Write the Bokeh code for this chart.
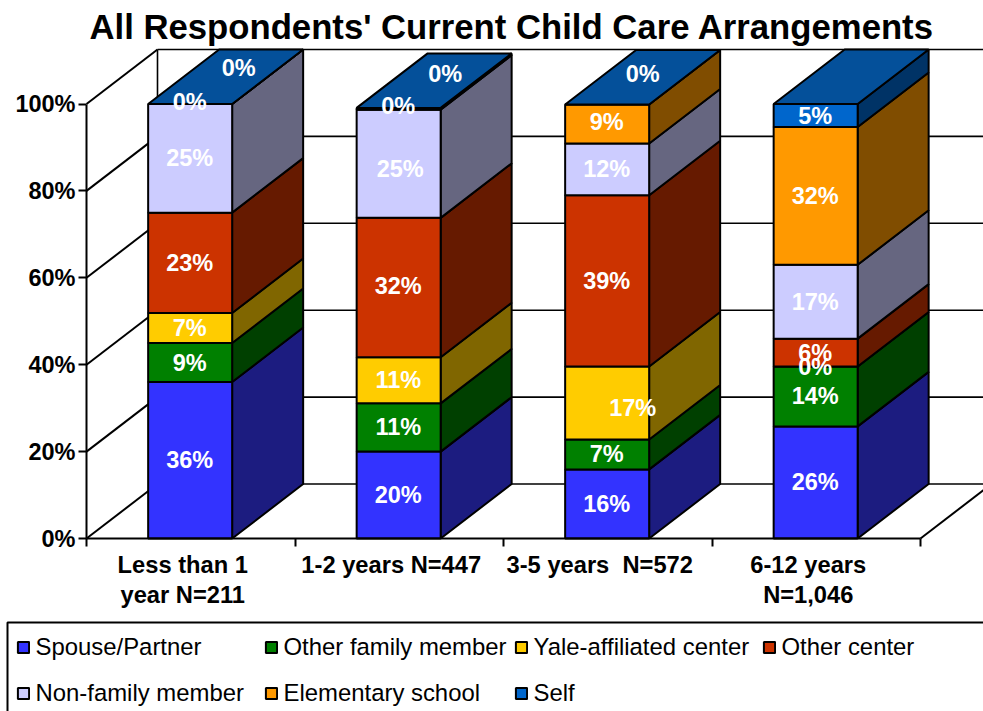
from bokeh.plotting import figure
from bokeh.embed import file_html
from bokeh.resources import INLINE
from bokeh.models import ColumnDataSource, FixedTicker, Legend, LegendItem, BoxAnnotation
from bokeh.core.properties import value

# ---- data (percent of respondents, bottom of stack to top) ----
CATEGORIES = ["Less than 1\nyear N=211", "1-2 years N=447", "3-5 years\u00a0 N=572", "6-12 years\nN=1,046"]
SERIES = ["Spouse/Partner", "Other family member", "Yale-affiliated center", "Other center",
          "Non-family member", "Elementary school", "Self"]
SPOUSE = [36.0, 20.0, 15.9, 25.8]
OTHER_FAMILY = [9.0, 11.1, 6.9, 13.8]
YALE = [6.9, 10.6, 16.8, 0.0]
OTHER_CENTER = [23.1, 32.1, 39.4, 6.4]
NON_FAMILY = [25.0, 24.9, 11.9, 17.0]
ELEMENTARY = [0.0, 0.4, 9.0, 31.7]
SELF = [0.0, 0.0, 0.0, 5.3]
VALUES = [SPOUSE, OTHER_FAMILY, YALE, OTHER_CENTER, NON_FAMILY, ELEMENTARY, SELF]
Y_TICKS = [0, 20, 40, 60, 80, 100]

# ---- styling ----
FRONT = ["#3333FF", "#008000", "#FFCC00", "#CC3300", "#CCCCFF", "#FF9900", "#0066CC"]
SIDE = ["#1C1C80", "#004000", "#806600", "#661A00", "#666680", "#804D00", "#003366"]
TOP_COLOR = "#04509A"
FONT = "Liberation Sans"
BIG = "23.5px"

W, H = 983, 711
PX_X = 208.5          # pixels per category
PX_Y = 4.345          # pixels per percent
DX = 71 / PX_X        # 3-D depth in x units
DY = 54.5 / PX_Y      # 3-D depth in y units
BAR = 84 / PX_X
BAR_NUDGE = 0.6 / PX_X
ORIGIN_X, ORIGIN_Y, FRAME_T = 86, 538, 47   # canvas pixels of the 0/0 corner and frame top
X_START, X_END = -ORIGIN_X / PX_X, (W - ORIGIN_X) / PX_X
Y_START, Y_END = -(H - ORIGIN_Y) / PX_Y, (ORIGIN_Y - FRAME_T) / PX_Y

# hand-placed data labels: (category, series) -> pixel offset from the face centre
LABEL_SHIFT = {
    (0, 5): (0, -2), (0, 6): (49, -36),
    (1, 4): (2, 5), (1, 5): (0, -3), (1, 6): (47, -34), (1, 3): (0, -2),
    (2, 2): (26, 5), (2, 5): (0, -2), (2, 6): (36, -30),
    (3, 2): (0, 1),
}

p = figure(width=W, height=H, output_backend="svg", toolbar_location=None,
           x_range=(X_START, X_END), y_range=(Y_START, Y_END),
           min_border_left=0, min_border_right=0, min_border_top=FRAME_T, min_border_bottom=0,
           background_fill_color="white", border_fill_color="white", outline_line_color=None)
p.grid.visible = False

p.title.text = "All Respondents' Current Child Care Arrangements"
p.title.text_font = FONT
p.title.text_font_size = "34.7px"
p.title.text_font_style = "bold"
p.title.text_color = "black"
p.title.align = "left"
p.title.offset = 89
p.title.standoff = 4

# axes, pinned to the front corner of the floor
ya = p.yaxis[0]
ya.fixed_location = 0
ya.ticker = FixedTicker(ticks=Y_TICKS)
ya.major_label_overrides = {t: f"{t}%" for t in Y_TICKS}
ya.bounds = (0, 100)
ya.major_tick_out = 8
ya.major_tick_in = 0
ya.minor_tick_out = 0
ya.axis_line_width = ya.major_tick_line_width = 2
ya.major_label_text_font = FONT
ya.major_label_text_font_size = BIG
ya.major_label_text_font_style = "bold"
ya.major_label_text_color = "black"
ya.major_label_standoff = 3

xa = p.xaxis[0]
xa.fixed_location = 0
centres = [i + 0.5 - 8 / PX_X for i in range(len(CATEGORIES))]
xa.ticker = FixedTicker(ticks=centres, minor_ticks=list(range(len(CATEGORIES) + 1)))
xa.major_label_overrides = dict(zip(centres, CATEGORIES))
xa.bounds = (0, len(CATEGORIES))
xa.major_tick_in = xa.major_tick_out = 0
xa.minor_tick_in = 0
xa.minor_tick_out = 8
xa.axis_line_width = xa.minor_tick_line_width = 2
xa.major_label_text_font = FONT
xa.major_label_text_font_size = "23.7px"
xa.major_label_text_font_style = "bold"
xa.major_label_text_color = "black"
xa.major_label_text_line_height = 1.17
xa.major_label_standoff = 5

# walls of the 3-D box: horizontal rules on the back wall, diagonals on side wall and floor
hx0, hy, hx1 = [], [], []
dx0, dy0, dx1, dy1 = [], [], [], []
for t in Y_TICKS:
    hx0.append(DX)
    hx1.append(X_END)
    hy.append(t + DY)
    dx0.append(0)
    dy0.append(t)
    dx1.append(DX)
    dy1.append(t + DY)
p.segment(hx0, hy, hx1, hy, line_color="black", line_width=1.6)
p.segment([DX], [DY], [DX], [100 + DY], line_color="black", line_width=1.6)
dx0.append(len(CATEGORIES))
dy0.append(0)
dx1.append(len(CATEGORIES) + DX)
dy1.append(DY)
p.segment(dx0, dy0, dx1, dy1, line_color="black", line_width=2)

# stacked 3-D columns
legend_items = []
bottoms = [0.0] * len(CATEGORIES)
for s, vals in enumerate(VALUES):
    tops = [b + v for b, v in zip(bottoms, vals)]
    lefts = [i + 0.5 - BAR / 2 - BAR_NUDGE for i in range(len(CATEGORIES))]
    rights = [l + BAR for l in lefts]
    p.patches([[r, r + DX, r + DX, r] for r in rights],
              [[b, b + DY, t + DY, t] for b, t in zip(bottoms, tops)],
              fill_color=SIDE[s], line_color="black", line_width=2)
    front = p.quad(left=lefts, right=rights, bottom=bottoms, top=tops,
                   fill_color=FRONT[s], line_color="black", line_width=2)
    legend_items.append(LegendItem(label=SERIES[s], renderers=[front]))
    bottoms = tops

stack_top = bottoms
p.patches([[l, l + DX, l + BAR + DX, l + BAR] for l in lefts],
          [[t, t + DY, t + DY, t] for t in stack_top],
          fill_color=TOP_COLOR, line_color="black", line_width=2)

# data labels
bottoms = [0.0] * len(CATEGORIES)
for s, vals in enumerate(VALUES):
    shift = [LABEL_SHIFT.get((i, s), (0, 0)) for i in range(len(CATEGORIES))]
    src = ColumnDataSource(dict(
        x=[i + 0.5 for i in range(len(CATEGORIES))],
        y=[b + v / 2 for b, v in zip(bottoms, vals)],
        t=[f"{round(v)}%" for v in vals],
        dx=[d[0] - 1 for d in shift],
        dy=[d[1] for d in shift],
    ))
    p.text(x="x", y="y", text="t", x_offset="dx", y_offset="dy", source=src,
           text_color="white", text_font=value(FONT), text_font_size=BIG, text_font_style="bold",
           text_align="center", text_baseline="middle")
    bottoms = [b + v for b, v in zip(bottoms, vals)]

# legend box and legend
p.add_layout(BoxAnnotation(left=7, right=W + 20, top=622, bottom=H + 20,
                           left_units="canvas", right_units="canvas", top_units="canvas", bottom_units="canvas",
                           fill_alpha=0, line_color="black", line_width=2, line_alpha=1))
legend = Legend(items=legend_items, location=(15.5, -1.5), orientation="horizontal", ncols=4, nrows=2,
                background_fill_alpha=0, border_line_color=None, padding=0, margin=0, spacing=7,
                glyph_width=14, glyph_height=14, label_standoff=6, label_width=221, label_height=39,
                label_text_font=FONT, label_text_font_size="23.9px", label_text_color="black")
p.add_layout(legend, "center")

open("out.html", "w").write(file_html(p, INLINE))
